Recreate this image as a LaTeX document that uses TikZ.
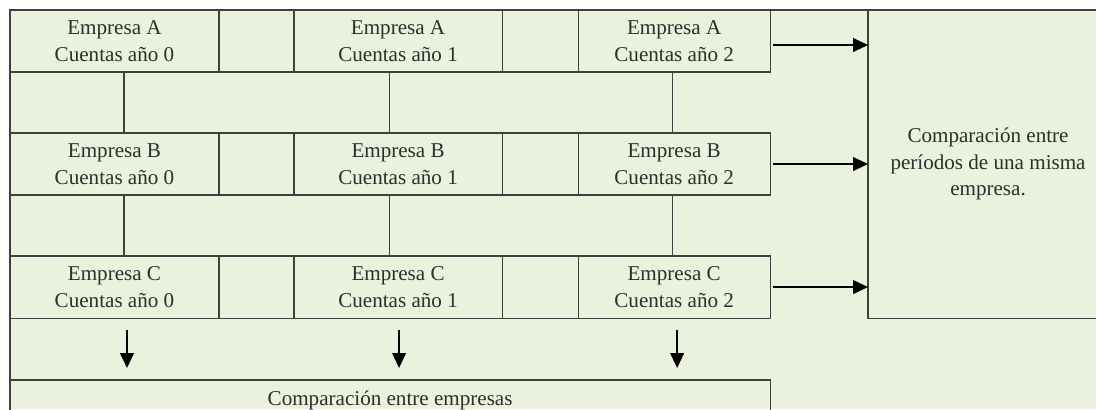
\documentclass[tikz,border=0pt]{standalone}
\usepackage{fontspec}
\setmainfont{Liberation Serif}
\usetikzlibrary{positioning,arrows.meta}

\definecolor{panel}{HTML}{EAF1DD}
\definecolor{rulecol}{HTML}{404040}
\definecolor{ink}{HTML}{2E2E2E}

\begin{document}
\begin{tikzpicture}[
  x=0.025cm, y=0.025cm,
  cell/.style={rectangle,draw=rulecol,line width=0.8pt,outer sep=0pt,inner sep=1pt,
    minimum height=1.55cm,align=center,text=ink,
    font=\fontsize{15}{19}\selectfont},
  tie/.style={draw=rulecol,line width=0.8pt},
  arr/.style={-{Triangle[length=3.7mm,width=3.4mm]},line width=1.2pt,black},
  node distance=0pt
]
  \clip (0,0) rectangle (1096,409);
  \fill[panel] (10,0) rectangle (1096,399);
  \draw[tie] (10,0) -- (10,399) -- (1096,399);

  % empresa A
  \node[cell,minimum width=5.225cm] (a0) at (114.5,368) {Empresa A\\Cuentas año 0};
  \node[cell,minimum width=1.875cm,right=of a0] (ga1) {};
  \node[cell,minimum width=5.2cm,right=of ga1] (a1) {Empresa A\\Cuentas año 1};
  \node[cell,minimum width=1.9cm,right=of a1] (ga2) {};
  \node[cell,minimum width=4.8cm,right=of ga2] (a2) {Empresa A\\Cuentas año 2};

  % empresa B
  \node[cell,minimum width=5.225cm,below=1.525cm of a0] (b0) {Empresa B\\Cuentas año 0};
  \node[cell,minimum width=1.875cm,right=of b0] (gb1) {};
  \node[cell,minimum width=5.2cm,right=of gb1] (b1) {Empresa B\\Cuentas año 1};
  \node[cell,minimum width=1.9cm,right=of b1] (gb2) {};
  \node[cell,minimum width=4.8cm,right=of gb2] (b2) {Empresa B\\Cuentas año 2};

  % empresa C
  \node[cell,minimum width=5.225cm,below=1.525cm of b0] (c0) {Empresa C\\Cuentas año 0};
  \node[cell,minimum width=1.875cm,right=of c0] (gc1) {};
  \node[cell,minimum width=5.2cm,right=of gc1] (c1) {Empresa C\\Cuentas año 1};
  \node[cell,minimum width=1.9cm,right=of c1] (gc2) {};
  \node[cell,minimum width=4.8cm,right=of gc2] (c2) {Empresa C\\Cuentas año 2};

  \node[cell,minimum width=6cm,minimum height=7.7cm,anchor=north west] (per) at (868,399)
    {Comparación entre\\períodos de una misma\\empresa.};
  \node[cell,minimum width=19cm,minimum height=1cm,anchor=north west] (emp) at (10,29)
    {Comparación entre empresas};

  \draw[tie] ([xshift=0.2375cm]a0.south) -- ([xshift=0.2375cm]b0.north);
  \draw[tie] ([xshift=-0.225cm]a1.south) -- ([xshift=-0.225cm]b1.north);
  \draw[tie] ([xshift=-0.05cm]a2.south) -- ([xshift=-0.05cm]b2.north);
  \draw[tie] ([xshift=0.2375cm]b0.south) -- ([xshift=0.2375cm]c0.north);
  \draw[tie] ([xshift=-0.225cm]b1.south) -- ([xshift=-0.225cm]c1.north);
  \draw[tie] ([xshift=-0.05cm]b2.south) -- ([xshift=-0.05cm]c2.north);

  \draw[arr,shorten <=0.075cm] ([yshift=-0.1cm]a2.east) -- ([yshift=-0.1cm]a2.east -| per.west);
  \draw[arr,shorten <=0.075cm] (b2.east) -- (b2.east -| per.west);
  \draw[arr,shorten <=0.075cm] (c2.east) -- (c2.east -| per.west);

  \draw[arr,shorten <=0.3cm,shorten >=0.3cm] ([xshift=0.3125cm]c0.south) -- ([xshift=0.3125cm]c0.south |- emp.north);
  \draw[arr,shorten <=0.3cm,shorten >=0.3cm] ([xshift=0.025cm]c1.south) -- ([xshift=0.025cm]c1.south |- emp.north);
  \draw[arr,shorten <=0.3cm,shorten >=0.3cm] ([xshift=0.075cm]c2.south) -- ([xshift=0.075cm]c2.south |- emp.north);
\end{tikzpicture}
\end{document}
